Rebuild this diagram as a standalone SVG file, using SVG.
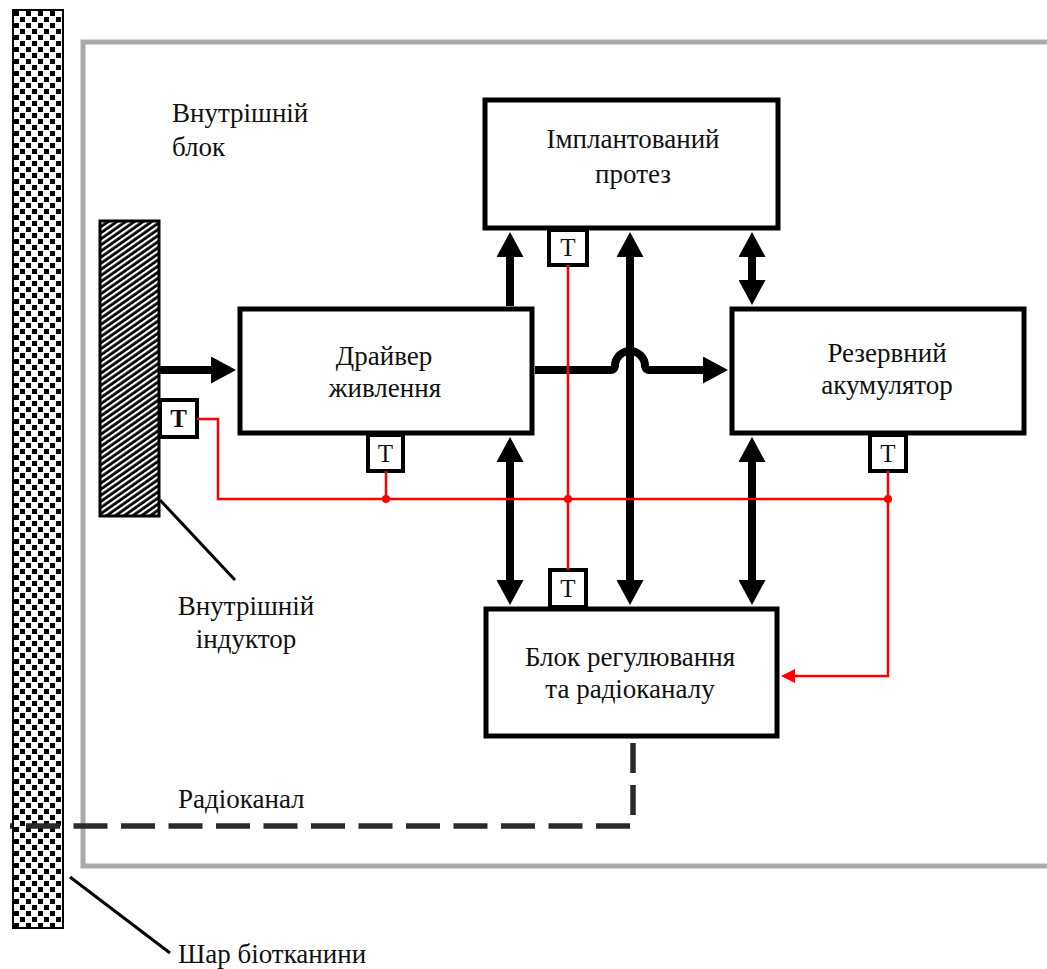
<svg xmlns="http://www.w3.org/2000/svg" width="1047" height="969" viewBox="0 0 1047 969">
  <style>
    .lbl { font-family: "Liberation Serif", "Times New Roman", serif; font-size: 27px; fill: #111; }
    .mid { text-anchor: middle; }
    .box { fill: #fff; stroke: #000; stroke-width: 5; }
    .tbox { fill: #fff; stroke: #000; stroke-width: 4; }
    .tlbl { font-family: "Liberation Serif", "Times New Roman", serif; font-size: 25px; fill: #111; text-anchor: middle; }
    .shaft { fill: none; stroke: #000; stroke-width: 8; }
    .sense { fill: none; stroke: #f00; stroke-width: 2.5; }
    .lead { fill: none; stroke: #000; stroke-width: 3; }
    .radio { fill: none; stroke: #2a2a2a; stroke-width: 5.5; }
  </style>
  <defs>
    <pattern id="checker" width="12" height="12" patternUnits="userSpaceOnUse" x="13" y="10">
      <rect width="12" height="12" fill="#fff"/>
      <rect x="1" y="1" width="5" height="5" fill="#000"/>
      <rect x="7" y="7" width="5" height="5" fill="#000"/>
    </pattern>
    <pattern id="coil" width="5" height="5" patternUnits="userSpaceOnUse" patternTransform="rotate(-35)">
      <rect width="5" height="5" fill="#000"/>
      <rect y="0" width="5" height="2.2" fill="#fff"/>
    </pattern>
    <marker id="head" viewBox="0 0 25 27" markerWidth="25" markerHeight="27" refX="1" refY="13.5" orient="auto-start-reverse" markerUnits="userSpaceOnUse">
      <path d="M0,0 L25,13.5 L0,27 Z" fill="#000"/>
    </marker>
    <marker id="redhead" viewBox="0 0 14 14" markerWidth="14" markerHeight="14" refX="1" refY="7" orient="auto" markerUnits="userSpaceOnUse">
      <path d="M0,0 L14,7 L0,14 Z" fill="#f00"/>
    </marker>
  </defs>

  <rect width="1047" height="969" fill="#fff"/>

  <!-- inner block housing -->
  <g id="inner-block">
    <rect x="83" y="42" width="1000" height="824" fill="none" stroke="#aaa" stroke-width="5"/>
    <text class="lbl" x="172" y="122">Внутрішній</text>
    <text class="lbl" x="172" y="156">блок</text>
  </g>

  <!-- tissue layer -->
  <g id="tissue">
    <rect x="13" y="10" width="50" height="918" fill="url(#checker)" stroke="#000" stroke-width="2"/>
    <path class="lead" d="M70,877 L170,953"/>
    <text class="lbl" x="178" y="963">Шар біотканини</text>
  </g>

  <!-- internal inductor -->
  <g id="inductor">
    <rect x="100" y="221" width="59" height="295" fill="url(#coil)" stroke="#000" stroke-width="3"/>
    <path class="lead" d="M160,500 L235,580"/>
    <text class="lbl mid" x="246" y="615">Внутрішній</text>
    <text class="lbl mid" x="246" y="648">індуктор</text>
  </g>

  <g id="prosthesis">
    <rect class="box" x="485" y="100" width="293" height="128"/>
    <text class="lbl mid" x="633" y="148">Імплантований</text>
    <text class="lbl mid" x="633" y="183">протез</text>
  </g>

  <g id="driver">
    <rect class="box" x="240" y="309" width="292" height="124"/>
    <text class="lbl mid" x="384" y="365">Драйвер</text>
    <text class="lbl mid" x="385" y="397">живлення</text>
  </g>

  <g id="reserve">
    <rect class="box" x="732" y="309" width="292" height="124"/>
    <text class="lbl mid" x="887" y="362">Резервний</text>
    <text class="lbl mid" x="887" y="394">акумулятор</text>
  </g>

  <g id="regulator">
    <rect class="box" x="486" y="609" width="291" height="127"/>
    <text class="lbl mid" x="630" y="666">Блок регулювання</text>
    <text class="lbl mid" x="630" y="698">та радіоканалу</text>
  </g>

  <!-- temperature sensors -->
  <g id="t-inductor">
    <rect class="tbox" x="160" y="400" width="37" height="37"/>
    <text class="tlbl" x="178.5" y="427" font-weight="bold">T</text>
  </g>
  <g id="t-prosthesis">
    <rect class="tbox" x="549" y="230" width="38" height="35"/>
    <text class="tlbl" x="568" y="256">T</text>
  </g>
  <g id="t-driver">
    <rect class="tbox" x="368" y="435" width="35" height="36"/>
    <text class="tlbl" x="385.5" y="462">T</text>
  </g>
  <g id="t-reserve">
    <rect class="tbox" x="870" y="435" width="36" height="36"/>
    <text class="tlbl" x="888" y="462">T</text>
  </g>
  <g id="t-regulator">
    <rect class="tbox" x="550" y="570" width="36" height="37"/>
    <text class="tlbl" x="568" y="597">T</text>
  </g>

  <g id="connectors">
    <!-- power paths -->
    <path class="shaft" d="M160,370 H212" marker-end="url(#head)"/>
    <path class="shaft" d="M535,370 H611 Q614,370 615,366 A15,15 0 0 1 645,366 Q646,370 649,370 H704" marker-end="url(#head)"/>
    <path class="shaft" d="M510,306 V256" marker-end="url(#head)"/>
    <path class="shaft" d="M752,256 V281" marker-start="url(#head)" marker-end="url(#head)"/>
    <path class="shaft" stroke-width="10" d="M630,256 V581" marker-start="url(#head)" marker-end="url(#head)"/>
    <path class="shaft" d="M510,461 V581" marker-start="url(#head)" marker-end="url(#head)"/>
    <path class="shaft" d="M752,461 V581" marker-start="url(#head)" marker-end="url(#head)"/>

    <!-- temperature bus -->
    <path class="sense" d="M197,419 H218 V499 H888"/>
    <path class="sense" d="M386,471 V499"/>
    <path class="sense" d="M568,265 V570"/>
    <path class="sense" d="M888,471 V676 H794" marker-end="url(#redhead)"/>
    <g fill="#f00">
      <circle cx="386" cy="499" r="4"/>
      <circle cx="568" cy="499" r="4"/>
      <circle cx="888" cy="499" r="4"/>
    </g>

    <!-- radio channel -->
    <path class="radio" d="M633,743 V826" stroke-dasharray="30 12"/>
    <path class="radio" d="M630,826 H10" stroke-dasharray="34 13.5"/>
    <text class="lbl" x="178" y="808">Радіоканал</text>
  </g>
</svg>
